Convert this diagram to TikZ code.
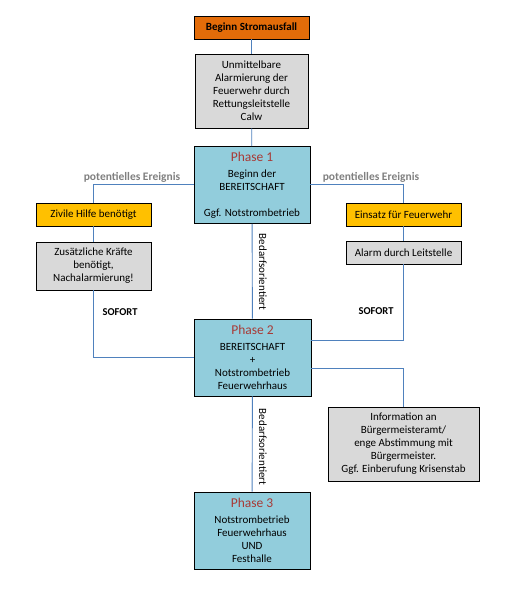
\documentclass[tikz,border=0pt]{standalone}
\usepackage{fontspec}
\setmainfont{Carlito}
\usetikzlibrary{calc}
\definecolor{orangebox}{HTML}{E36C09}
\definecolor{graybox}{HTML}{D9D9D9}
\definecolor{bluebox}{HTML}{92CDDC}
\definecolor{yellowbox}{HTML}{FFC000}
\definecolor{linkblue}{HTML}{4F81BD}
\definecolor{phasered}{HTML}{A83A36}
\definecolor{labelgray}{HTML}{808080}
\newcommand\bodyfont{\fontsize{11}{13}\selectfont}
\newcommand\phasetitle[1]{{\fontsize{13.5}{13}\selectfont\color{phasered}#1}}
\tikzset{
  box/.style={draw=black, line width=0.9pt, inner sep=0pt, align=center, font=\bodyfont, text=black},
  graynode/.style={box, fill=graybox},
  phasenode/.style={box, fill=bluebox, minimum width=116pt, minimum height=77pt},
  yellownode/.style={box, fill=yellowbox, minimum width=115pt, minimum height=23pt},
  link/.style={draw=linkblue, line width=0.9pt},
  eventlabel/.style={font=\fontsize{11.5}{13}\selectfont\bfseries, text=labelgray, inner sep=0pt},
  sofortlabel/.style={font=\fontsize{10.5}{13}\selectfont\bfseries, text=black, inner sep=0pt},
  needlabel/.style={font=\bodyfont, text=black, inner sep=0pt, rotate=-90}
}
\begin{document}
\begin{tikzpicture}[x=1pt,y=-1pt]
\useasboundingbox (0,0) rectangle (508,591);
% nodes
\node[box, fill=orangebox, minimum width=115pt, minimum height=23pt, font=\bodyfont\bfseries] (start) at (251.5,27.5) {Beginn Stromausfall};
\node[graynode, minimum width=113pt, minimum height=74pt] (alarm) at (251.5,91) {Unmittelbare\\Alarmierung der\\Feuerwehr durch\\Rettungsleitstelle\\Calw};
\node[phasenode] (p1) at (252,185) {\phasetitle{Phase 1}\\[3pt]Beginn der\\BEREITSCHAFT\\[13pt]Ggf. Notstrombetrieb};
\node[yellownode] (zivil) at (93.5,214.5) {Zivile Hilfe benötigt};
\node[graynode, minimum width=115pt, minimum height=48pt] (zus) at (93.5,266) {Zusätzliche Kräfte\\benötigt,\\Nachalarmierung!};
\node[yellownode] (einsatz) at (403.5,214.5) {Einsatz für Feuerwehr};
\node[graynode, minimum width=115pt, minimum height=23pt] (leit) at (403.5,252.5) {Alarm durch Leitstelle};
\node[phasenode, minimum width=117pt] (p2) at (252.5,357.5) {\phasetitle{Phase 2}\\[3pt]BEREITSCHAFT\\+\\Notstrombetrieb\\Feuerwehrhaus};
\node[graynode, minimum width=151pt, minimum height=74pt] (info) at (403.5,444) {Information an\\Bürgermeisteramt/\\enge Abstimmung mit\\Bürgermeister.\\Ggf. Einberufung Krisenstab};
\node[phasenode] (p3) at (252,530.5) {\phasetitle{Phase 3}\\[3pt]Notstrombetrieb\\Feuerwehrhaus\\UND\\Festhalle};
% helper coordinates
\coordinate (p1l) at ([yshift=1pt]p1.west);
\coordinate (p1r) at ([yshift=1pt]p1.east);
\coordinate (p2a) at ([yshift=-22pt]p2.north east);
\coordinate (p2b) at ([yshift=-50pt]p2.north east);
% connectors
\draw[link] (start) -- (alarm);
\draw[link] (alarm) -- (p1);
\draw[link] (p1l) -| (zivil.north);
\draw[link] (zivil) -- (zus);
\draw[link] (zus.south) |- (p2.west);
\draw[link] (p1r) -| (einsatz.north);
\draw[link] (einsatz) -- (leit);
\draw[link] (leit.south) |- (p2a);
\draw[link] (p2b) -| (info.north);
\draw[link] (p1) -- (p2);
\draw[link] (p2) -- (p3);
% labels
\node[eventlabel] (ev1) at (132,177) {potentielles Ereignis};
\node[eventlabel] (ev2) at (371,177) {potentielles Ereignis};
\node[sofortlabel] (so1) at (120,312) {SOFORT};
\node[sofortlabel] (so2) at (376,311) {SOFORT};
\node[needlabel] (bed1) at (263,272) {Bedarfsorientiert};
\node[needlabel] (bed2) at (263,447) {Bedarfsorientiert};
\end{tikzpicture}
\end{document}
